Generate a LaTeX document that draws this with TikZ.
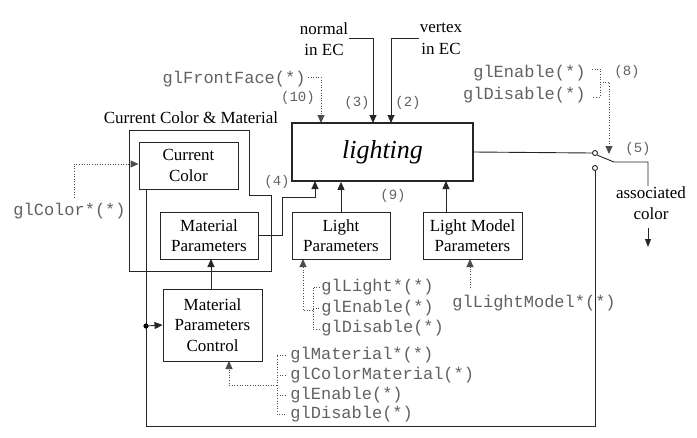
\documentclass[tikz,border=0pt]{standalone}
\usepackage{fontspec}
\setmainfont{Liberation Serif}
\newfontfamily\codefont{Liberation Mono}
\usetikzlibrary{arrows.meta}
\begin{document}
\begin{tikzpicture}[x=1pt,y=-1pt, line width=0.9pt, draw=black!85,
 box/.style={draw, rectangle, inner sep=0pt, align=center, minimum width=99pt, minimum height=47pt, font=\fontsize{17}{20.5}\selectfont},
 code/.style={inner sep=0pt, font=\codefont\fontsize{17}{20}\selectfont, text=black!62},
 num/.style={inner sep=0pt, font=\codefont\fontsize{14}{16}\selectfont, text=black!62},
 lbl/.style={inner sep=0pt, align=center, font=\fontsize{17}{21.5}\selectfont},
 arr/.style={-{Triangle[length=8pt,width=7pt]}},
 dotl/.style={dash pattern=on 1pt off 1.6pt, draw=black!70},
 swc/.style={circle, draw, fill=white, inner sep=0pt, minimum size=5pt},
]
\useasboundingbox (0,0) rectangle (697,437);
% main boxes
\node[draw, line width=1.8pt, rectangle, minimum width=181pt, minimum height=58pt, inner sep=0pt, font=\itshape\fontsize{26}{30}\selectfont] (light) at (382.5,152) {lighting};
\node[box] (curcol) at (188.5,165.5) {Current\\Color};
\node[box, minimum width=98pt] (matpar) at (209,235.5) {Material\\Parameters};
\node[box, minimum width=98pt] (lightpar) at (341,235.5) {Light\\Parameters};
\node[box] (lmpar) at (472.5,235.5) {Light Model\\Parameters};
\node[box, minimum height=72pt] (mpc) at (212.5,325) {Material\\Parameters\\Control};
% outer group outline
\draw (129,130) -- (249,130) -- (249,195) -- (271,195) -- (271,271) -- (129,271) -- cycle;
\node[lbl, anchor=south] (grp) at (191,124) {Current Color \& Material};
% top labels
\node[lbl] (normal) at (324,39) {normal\\in EC};
\node[lbl] (vertex) at (441,39) {vertex\\in EC};
\draw[arr] (normal.east |- 0,38) -- (373,38) -- (373,123);
\draw[arr] (vertex.west |- 0,38) -- (391,38) -- (391,123);
\node[num] (n3) at (357,103) {(3)};
\node[num] (n2) at (408,103) {(2)};
\node[code, anchor=east] (ff) at (306,79) {glFrontFace(*)};
\node[num] (n10) at (298,98) {(10)};
\draw[arr, dotl] (ff.east) ++(2,-2) coordinate (ffa) -- (321,77) -- (321,123);
% color
\node[code, anchor=west] (glcolor) at (13,211) {glColor*(*)};
\draw[arr, dotl] (74,198) -- (74,164) -- (curcol.west |- 0,164);
% switch
\node[swc] (s1) at (595,153) {};
\node[swc] (s2) at (595,168) {};
\draw (light.east) -- (s1.west);
\node[lbl, anchor=north] (assoc) at (651,186) {associated\\color};
\draw (s1.south east) -- (614,162) -- (648,162) -- (648,186);
\draw[-{Triangle[length=8pt,width=6pt]}] (648,228) -- (648,247);
\node[num] (n5) at (638,149) {(5)};
\node[code, anchor=east] (en8) at (586,73) {glEnable(*)};
\node[code, anchor=east] (dis8) at (586,95) {glDisable(*)};
\node[num] (n8) at (627,72) {(8)};
\draw[dotl] (592,69) -- (600,69) -- (600,97) -- (592,97);
\draw[arr, dotl] (600,82) -- (609,82) -- (609,154);
% return line
\draw (s2.south) -- (595,426) -- (146,426) -- (146,189);
\fill (146,326) circle (2.6pt) coordinate (jd);
\draw[arr] (146,326) -- (mpc.west);
% material to lighting
\draw[arr] (matpar.east) -- (282,235.5) -- (282,197) -- (315,197) -- (315,181);
\node[num] (n4) at (277,182) {(4)};
\draw[arr] (lightpar.north) -- (lightpar.north |- light.south);
\draw[arr] (446,212) -- (446,181);
\node[num] (n9) at (393,196) {(9)};
\draw[arr] (mpc.north -| 211,0) -- (211,259);
% light params commands
\node[code, anchor=west] (gll) at (321,287) {glLight*(*)};
\node[code, anchor=west] (gle1) at (321,308) {glEnable(*)};
\node[code, anchor=west] (gld1) at (321,328) {glDisable(*)};
\draw[dotl] (320,287) -- (313,287) -- (313,329) -- (320,329);
\draw[dotl] (313,308) -- (320,308);
\draw[arr, dotl] (313,310) -- (303,310) -- (303,259);
\node[code, anchor=west] (gllm) at (452,303) {glLightModel*(*)};
\draw[arr, dotl] (470,288) -- (470,259);
% material commands
\node[code, anchor=west] (glm) at (290,355) {glMaterial*(*)};
\node[code, anchor=west] (glcm) at (290,375) {glColorMaterial(*)};
\node[code, anchor=west] (gle2) at (290,395) {glEnable(*)};
\node[code, anchor=west] (gld2) at (290,414) {glDisable(*)};
\draw[dotl] (286,355) -- (277,355) -- (277,414) -- (286,414);
\draw[dotl] (277,375) -- (286,375);
\draw[dotl] (277,395) -- (286,395);
\draw[arr, dotl] (277,385) -- (229,385) -- (229,361);
\end{tikzpicture}
\end{document}
